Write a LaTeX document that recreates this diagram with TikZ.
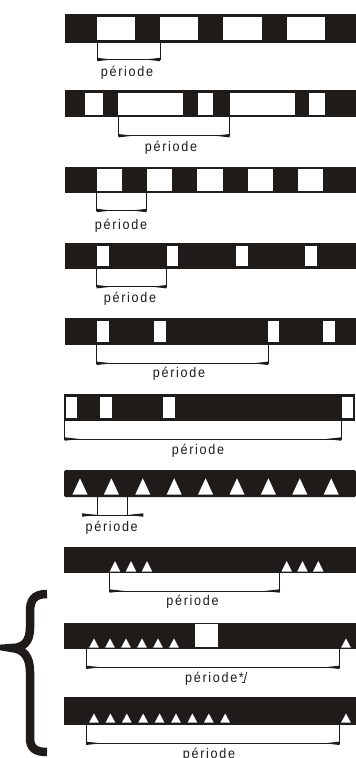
\documentclass[tikz,border=0pt]{standalone}
\usepackage{fontspec}
\newfontfamily\labfont[FakeStretch=0.9,LetterSpace=12]{Liberation Sans}
\definecolor{ink}{RGB}{30,27,24}
\tikzset{
  barbox/.style={fill=ink},
  winbox/.style={fill=white},
  dimline/.style={draw=ink, line width=0.9pt},
  lab/.style={font=\labfont\fontsize{14pt}{16pt}\selectfont, text=ink, anchor=base, inner sep=0pt},
}
% window: x1 x2 y1 y2
\newcommand\winr[4]{\fill[winbox] (#1,#3) rectangle (#2,#4);}
% white triangle: cx apexY baseY halfwidth
\newcommand\wtri[4]{\fill[winbox] (#1-#4,#3) -- (#1,#2) -- (#1+#4,#3) -- cycle;}
% period bracket with inner wedges: xL xR ytop ybot
\newcommand\perbr[4]{%
  \coordinate (L1) at (#1,#3); \coordinate (L2) at (#1,#4);
  \coordinate (R1) at (#2,#3); \coordinate (R2) at (#2,#4);
  \draw[dimline] (L1) -- (L2) -- (R2) -- (R1);
  \fill[ink] (#1,#4-1.7) -- (#1,#4+1.7) -- (#1+15,#4) -- cycle;
  \fill[ink] (#2,#4-1.7) -- (#2,#4+1.7) -- (#2-15,#4) -- cycle;
}
\begin{document}
\begin{tikzpicture}[x=1pt,y=-1pt]
\useasboundingbox (0,0) rectangle (356,758);
% ---------- strip 1
\fill[barbox] (65,14) rectangle (356,43);
\winr{97}{135}{17.3}{39.6}\winr{160}{198}{17.3}{39.6}\winr{223}{262}{17.3}{39.6}\winr{287}{325}{17.3}{39.6}
\perbr{97}{160}{43}{59.5}
\node[lab] (p1) at (127,76) {période};
% ---------- strip 2
\fill[barbox] (65,90) rectangle (356,117.3);
\winr{85}{103.3}{92.6}{114.7}\winr{118.3}{183.3}{92.6}{114.7}\winr{198.3}{213.3}{92.6}{114.7}
\winr{230}{295}{92.6}{114.7}\winr{309.3}{325}{92.6}{114.7}
\perbr{118.3}{229.7}{117.3}{135.7}
\node[lab] (p2) at (171,151) {période};
% ---------- strip 3
\fill[barbox] (65,166.7) rectangle (356,193.3);
\winr{96.7}{121.7}{169.2}{190.8}\winr{146.7}{171.7}{169.2}{190.8}\winr{196.7}{222.7}{169.2}{190.8}
\winr{247.7}{272.7}{169.2}{190.8}\winr{298.3}{323.3}{169.2}{190.8}
\perbr{96.7}{146.7}{193.3}{210.5}
\node[lab] (p3) at (121,229.5) {période};
% ---------- strip 4
\fill[barbox] (64.5,243.3) rectangle (356,269);
\winr{96.7}{109.3}{246}{266.3}\winr{166.7}{178.3}{246}{266.3}\winr{236}{247.7}{246}{266.3}\winr{305}{316.7}{246}{266.3}
\perbr{96.7}{166.7}{269}{286.7}
\node[lab] (p4) at (130,302.5) {période};
% ---------- strip 5
\fill[barbox] (64.5,318.3) rectangle (356,345);
\winr{96.7}{109.3}{321}{342.4}\winr{154.3}{166}{321}{342.4}\winr{268.3}{279.3}{321}{342.4}\winr{323.3}{335}{321}{342.4}
\perbr{96.7}{268}{345}{363.3}
\node[lab] (p5) at (179,377.5) {période};
% ---------- strip 6
\fill[barbox] (64,394) rectangle (355,420.7);
\winr{66.3}{76.7}{396.6}{418.3}\winr{100}{111.7}{396.6}{418.3}\winr{163.3}{175}{396.6}{418.3}\winr{341.7}{352.7}{396.6}{418.3}
\perbr{64.5}{341}{420.7}{439}
\node[lab] (p6) at (198,454.5) {période};
% ---------- strip 7 (triangles)
\fill[barbox, rounded corners=1.5pt] (64,470) rectangle (356,497);
\foreach \k in {0,...,8} {\wtri{80+31.4*\k}{478.3}{494.5}{7.5}}
\coordinate (t7a) at (97.7,497); \coordinate (t7b) at (97.7,515);
\coordinate (t7c) at (127.7,497); \coordinate (t7d) at (127.7,515);
\draw[dimline] (t7a) -- (t7b); \draw[dimline] (t7c) -- (t7d);
\draw[dimline] (82,515) -- (143.3,515);
\fill[ink] (82,515-1.7) -- (82,515+1.7) -- (97.7,515) -- cycle;
\fill[ink] (143.3,515-1.7) -- (143.3,515+1.7) -- (127.7,515) -- cycle;
\node[lab] (p7) at (111.7,531) {période};
% ---------- strip 8
\fill[barbox] (64,546.7) rectangle (356,573.3);
\foreach \c in {115,131,147,286.7,302.5,318.3} {\wtri{\c}{561}{571.5}{5.2}}
\perbr{109.5}{279.5}{573.3}{591}
\node[lab] (p8) at (192.5,605) {période};
% ---------- strip 9
\fill[barbox] (63.5,622.7) rectangle (356,649.3);
\foreach \k in {0,...,5} {\wtri{94+16*\k}{638.5}{647.5}{4.8}}
\wtri{346}{638.5}{647.5}{4.8}
\winr{195}{218.3}{624.3}{647.3}
\perbr{86}{339.5}{649.3}{667.3}
\node[lab, anchor=base west] (p9) at (185,682.5) {période*\kern-2pt\rule[-0.6pt]{3pt}{0.9pt}\kern-1pt/};
% ---------- strip 10
\fill[barbox] (63.5,697.3) rectangle (356,725);
\foreach \k in {0,...,8} {\wtri{94+16.4*\k}{713.5}{722.5}{4.8}}
\wtri{346}{713.5}{722.5}{4.8}
\perbr{86}{339.5}{725}{743.3}
\node[lab] (p10) at (209,758) {période};
% ---------- brace
\draw[ink, line width=8.5pt] (47,594) .. controls (34,594) and (30,600) .. (30,612) -- (30,628)
  .. controls (30,642) and (23,648) .. (12,648) .. controls (23,649) and (30,656) .. (30,672)
  -- (30,738) .. controls (30,748) and (35,752) .. (47,752);
\end{tikzpicture}
\end{document}
